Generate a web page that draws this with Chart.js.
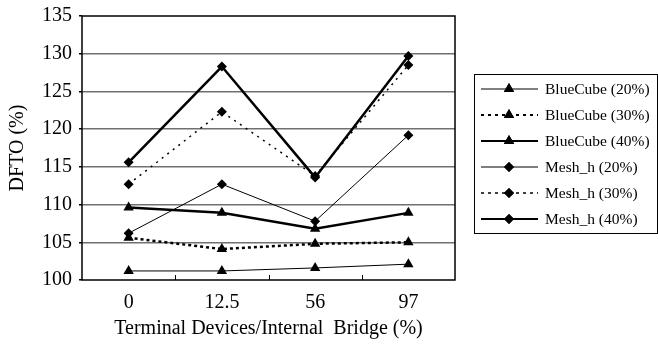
<!DOCTYPE html>
<html>
<head>
<meta charset="utf-8">
<script src="https://cdn.jsdelivr.net/npm/chart.js@4/dist/chart.umd.min.js"></script>
<style>
  html, body { margin: 0; padding: 0; background: #fff; }
  #wrap { width: 658px; height: 346px; }
</style>
</head>
<body>
<div id="wrap"><canvas id="chart" width="658" height="346"></canvas></div>
<script>
var categories = ["0", "12.5", "56", "97"];

var blueCube20 = [101.2, 101.2, 101.6, 102.1];
var blueCube30 = [105.6, 104.1, 104.8, 105.0];
var blueCube40 = [109.6, 108.9, 106.8, 108.9];
var mesh20 = [106.2, 112.7, 107.8, 119.2];
var mesh30 = [112.7, 122.3, 113.8, 128.5];
var mesh40 = [115.6, 128.3, 113.6, 129.7];

var yTicks = [100, 105, 110, 115, 120, 125, 130, 135];

var serif = "'Liberation Serif', 'DejaVu Serif', serif";

function series(label, data, width, dash, marker, radius) {
    return {
        label: label,
        data: data,
        borderColor: '#000',
        backgroundColor: '#000',
        borderWidth: width,
        borderDash: dash,
        pointStyle: marker,
        pointRadius: radius,
        pointBorderWidth: 0,
        pointBackgroundColor: '#000',
        tension: 0
    };
}

// inward tick marks between categories + the plot frame
var framePlugin = {
    id: 'frame',
    afterDraw: function (chart) {
        var ctx = chart.ctx, a = chart.chartArea, xs = chart.scales.x;
        ctx.save();
        ctx.strokeStyle = '#000';
        ctx.lineWidth = 1.5;
        ctx.strokeRect(a.left, a.top, a.right - a.left, a.bottom - a.top);
        ctx.lineWidth = 1;
        for (var i = 1; i < categories.length; i++) {
            var x = (xs.getPixelForValue(i - 1) + xs.getPixelForValue(i)) / 2;
            ctx.beginPath();
            ctx.moveTo(Math.round(x) + 0.5, a.bottom);
            ctx.lineTo(Math.round(x) + 0.5, a.bottom - 5);
            ctx.stroke();
        }
        ctx.restore();
    }
};

// boxed legend with line sample and marker
var legendPlugin = {
    id: 'boxLegend',
    afterDraw: function (chart) {
        var ctx = chart.ctx;
        var bx = 474, by = 74, bw = 183, bh = 159;
        ctx.save();
        ctx.strokeStyle = '#000';
        ctx.lineWidth = 1;
        ctx.strokeRect(bx + 0.5, by + 0.5, bw, bh);
        ctx.font = "15.5px " + serif;
        ctx.textBaseline = 'middle';
        ctx.fillStyle = '#000';
        chart.data.datasets.forEach(function (ds, i) {
            var y = 89 + i * 26;
            ctx.save();
            ctx.lineWidth = Math.min(ds.borderWidth, 2);
            ctx.setLineDash(ds.borderDash && ds.borderDash.length ? [3, 4] : []);
            ctx.beginPath();
            ctx.moveTo(481, y);
            ctx.lineTo(538, y);
            ctx.stroke();
            ctx.restore();
            Chart.helpers.drawPoint(ctx, {
                pointStyle: ds.pointStyle,
                radius: ds.pointRadius,
                borderWidth: 0,
                rotation: 0
            }, 509, y);
            ctx.fill();
            ctx.fillText(ds.label, 545, y + 1);
        });
        ctx.restore();
    }
};

new Chart(document.getElementById('chart').getContext('2d'), {
    type: 'line',
    data: {
        labels: categories,
        datasets: [
            series('BlueCube (20%)', blueCube20, 1, [], 'triangle', 6),
            series('BlueCube (30%)', blueCube30, 2.5, [3, 3], 'triangle', 6),
            series('BlueCube (40%)', blueCube40, 2.5, [], 'triangle', 6),
            series('Mesh_h (20%)', mesh20, 1, [], 'rectRot', 5),
            series('Mesh_h (30%)', mesh30, 1.5, [2, 5], 'rectRot', 5),
            series('Mesh_h (40%)', mesh40, 2.5, [], 'rectRot', 5)
        ]
    },
    options: {
        responsive: false,
        animation: false,
        layout: { padding: { top: 16, right: 203, bottom: 0, left: 6 } },
        plugins: { legend: { display: false }, tooltip: { enabled: false } },
        scales: {
            x: {
                offset: true,
                grid: { display: false },
                border: { display: false },
                ticks: { color: '#000', font: { family: serif, size: 20 }, padding: 3 },
                title: {
                    display: true,
                    text: 'Terminal Devices/Internal  Bridge (%)',
                    color: '#000',
                    font: { family: serif, size: 20 },
                    padding: { top: 0, bottom: 5 }
                },
                afterFit: function (s) { s.height = 66; }
            },
            y: {
                min: 100,
                max: 135,
                afterBuildTicks: function (s) {
                    s.ticks = yTicks.map(function (v) { return { value: v }; });
                },
                grid: {
                    color: function (c) { return (c.tick.value === 100 || c.tick.value === 135) ? 'rgba(0,0,0,0)' : '#707070'; },
                    lineWidth: 1.5,
                    tickLength: 3,
                    tickColor: '#000'
                },
                border: { display: false },
                ticks: { color: '#000', font: { family: serif, size: 20 }, padding: 7 },
                title: {
                    display: true,
                    text: 'DFTO (%)',
                    color: '#000',
                    font: { family: serif, size: 20 },
                    padding: { top: 0, bottom: 4 }
                },
                afterFit: function (s) { s.width = 76; s.paddingTop = 9; s.paddingBottom = 0; }
            }
        }
    },
    plugins: [framePlugin, legendPlugin]
});
</script>
</body>
</html>
